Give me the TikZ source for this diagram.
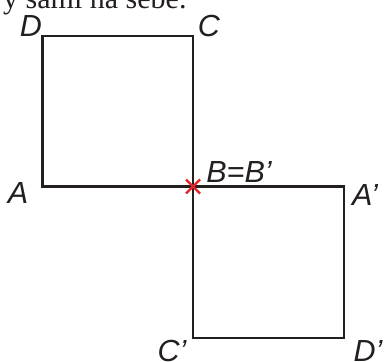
\documentclass[tikz,border=0pt]{standalone}
\usepackage{fontspec}
\setmainfont{Liberation Serif}
\newfontfamily\labelfont{Liberation Sans}
\definecolor{lineblack}{RGB}{35,31,32}
\definecolor{crossred}{RGB}{225,35,40}
\begin{document}
\begin{tikzpicture}[x=1pt,y=-1pt,
  edge/.style={draw=lineblack,line width=2.2pt,line join=miter},
  lbl/.style={font=\labelfont\itshape\fontsize{30.5}{30.5}\selectfont,text=lineblack,inner sep=0pt,anchor=base},
  crossline/.style={draw=crossred,line width=2.4pt}]
\useasboundingbox (0,0) rectangle (385,361);
\begin{scope}
\clip (0,0) rectangle (385,361);
\node[font=\fontsize{30}{30}\selectfont,anchor=base west,inner sep=0pt,text=lineblack] (top) at (3,9) {y sami na sebe.};
% coordinates
\coordinate (A) at (42.5,186.5);
\coordinate (B) at (193,186.5);
\coordinate (C) at (193,36);
\coordinate (D) at (42.5,36);
\coordinate (A2) at (344,186.5);
\coordinate (C2) at (193,338);
\coordinate (D2) at (344,338);
\draw[edge] (A) -- (D) -- (C) -- (B) -- cycle;
\draw[edge] (B) -- (A2) -- (D2) -- (C2) -- cycle;
% cross
\coordinate (x1) at (186,179.5);
\coordinate (x2) at (200,193.5);
\coordinate (x3) at (186,193.5);
\coordinate (x4) at (200,179.5);
\draw[crossline] (x1) -- (x2);
\draw[crossline] (x3) -- (x4);
% labels
\node[lbl] (lD) at (31,37) {D};
\node[lbl] (lC) at (209,37) {C};
\node[lbl] (lA) at (18,203) {A};
\node[lbl] (lB) at (239,182) {B=B’};
\node[lbl] (lA2) at (365,205) {A’};
\node[lbl] (lC2) at (172,361) {C’};
\node[lbl] (lD2) at (368,361) {D’};
\end{scope}
\end{tikzpicture}
\end{document}
